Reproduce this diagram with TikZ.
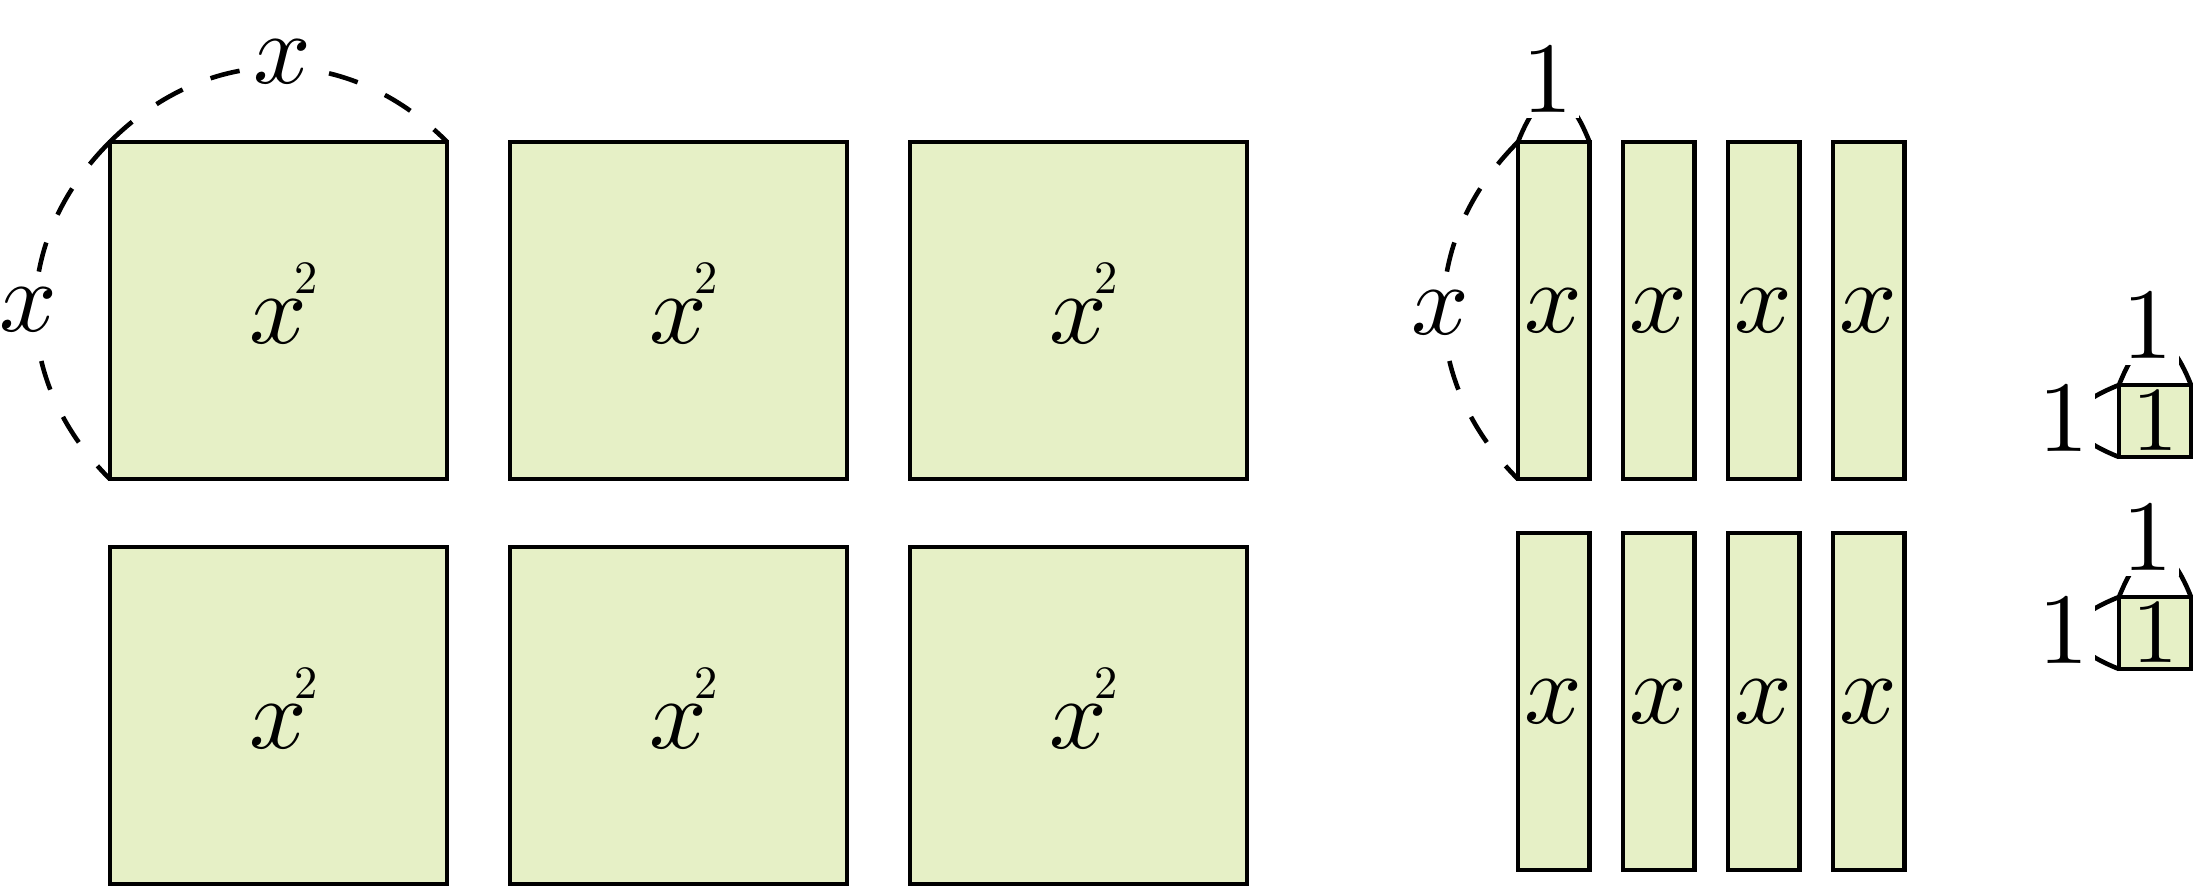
\documentclass[tikz,border=0pt]{standalone}
\usetikzlibrary{calc}
\definecolor{boxfill}{HTML}{E6F0C6}
\newcommand{\xsqlabel}{$x$\rlap{\kern-1.3pt\raisebox{4.95pt}{\scalebox{0.46}{2}}}}
\begin{document}
\begin{tikzpicture}[x=0.01cm,y=0.01cm,
  tile/.style={draw=black, fill=boxfill, line width=1.3pt, inner sep=0pt, outer sep=0pt},
  sqtile/.style={tile, minimum width=3.37cm, minimum height=3.37cm},
  bartile/.style={tile, minimum width=0.715cm, minimum height=3.37cm},
  unittile/.style={tile, minimum width=0.72cm, minimum height=0.72cm},
  dimarc/.style={line width=1.3pt, dash pattern=on 8.54pt off 8.54pt},
  smallarc/.style={line width=1.3pt},
  lab/.style={fill=white, inner sep=0.6pt, scale=2.87},
  inlab/.style={inner sep=0pt, scale=2.87},
]
\useasboundingbox (0,0) rectangle (2193,887);

% big squares
\node[sqtile] (s1) at (278.5, 887-310.5) {};
\node[sqtile] (s2) at (678.5, 887-310.5) {};
\node[sqtile] (s3) at (1078.5, 887-310.5) {};
\node[sqtile] (s4) at (278.5, 887-715.5) {};
\node[sqtile] (s5) at (678.5, 887-715.5) {};
\node[sqtile] (s6) at (1078.5, 887-715.5) {};
\foreach \i in {1,...,6}
  \node[inlab, anchor=base] (t\i) at ($(s\i.center)+(0,-33)$) {\xsqlabel};

% bars
\foreach \k in {0,1,2,3} {
  \node[bartile] (bt\k) at (1553.75+105*\k, 887-310.5) {\scalebox{2.87}{$x$}};
  \node[bartile] (bb\k) at (1553.75+105*\k, 887-701.5) {\scalebox{2.87}{$x$}};
}

% unit squares
\node[unittile] (u1) at (2155, 887-421) {\scalebox{2.6}{$1$}};
\node[unittile] (u2) at (2155, 887-633) {\scalebox{2.6}{$1$}};

% dimension arcs
\draw[dimarc] (s1.north west) to[bend left=45, looseness=1.07] (s1.north east);
\draw[dimarc] (s1.north west) to[bend right=45, looseness=1.07] (s1.south west);
\draw[dimarc] (bt0.north west) to[bend right=45, looseness=1.07] (bt0.south west);
\draw[smallarc] (bt0.north west) .. controls +(24,60) and +(-24,60) .. (bt0.north east);
\draw[smallarc] (u1.north west) .. controls +(24,60) and +(-24,60) .. (u1.north east);
\draw[smallarc] (u1.north west) .. controls +(-60,-24) and +(-60,24) .. (u1.south west);
\draw[smallarc] (u2.north west) .. controls +(24,60) and +(-24,60) .. (u2.north east);
\draw[smallarc] (u2.north west) .. controls +(-60,-24) and +(-60,24) .. (u2.south west);

% dimension labels
\node[lab] (tx) at (282, 887-62) {$x$};
\node[lab] (lx) at (28, 887-310) {$x$};
\node[lab] (blx) at (1440, 887-313) {$x$};
\node[lab] (btl) at (1547.5, 887-79.5) {$1$};
\node[lab] (u1t) at (2147.5, 887-326) {$1$};
\node[lab] (u1l) at (2063.5, 887-419) {$1$};
\node[lab] (u2t) at (2147.5, 887-537.5) {$1$};
\node[lab] (u2l) at (2063.5, 887-631) {$1$};
\end{tikzpicture}
\end{document}
